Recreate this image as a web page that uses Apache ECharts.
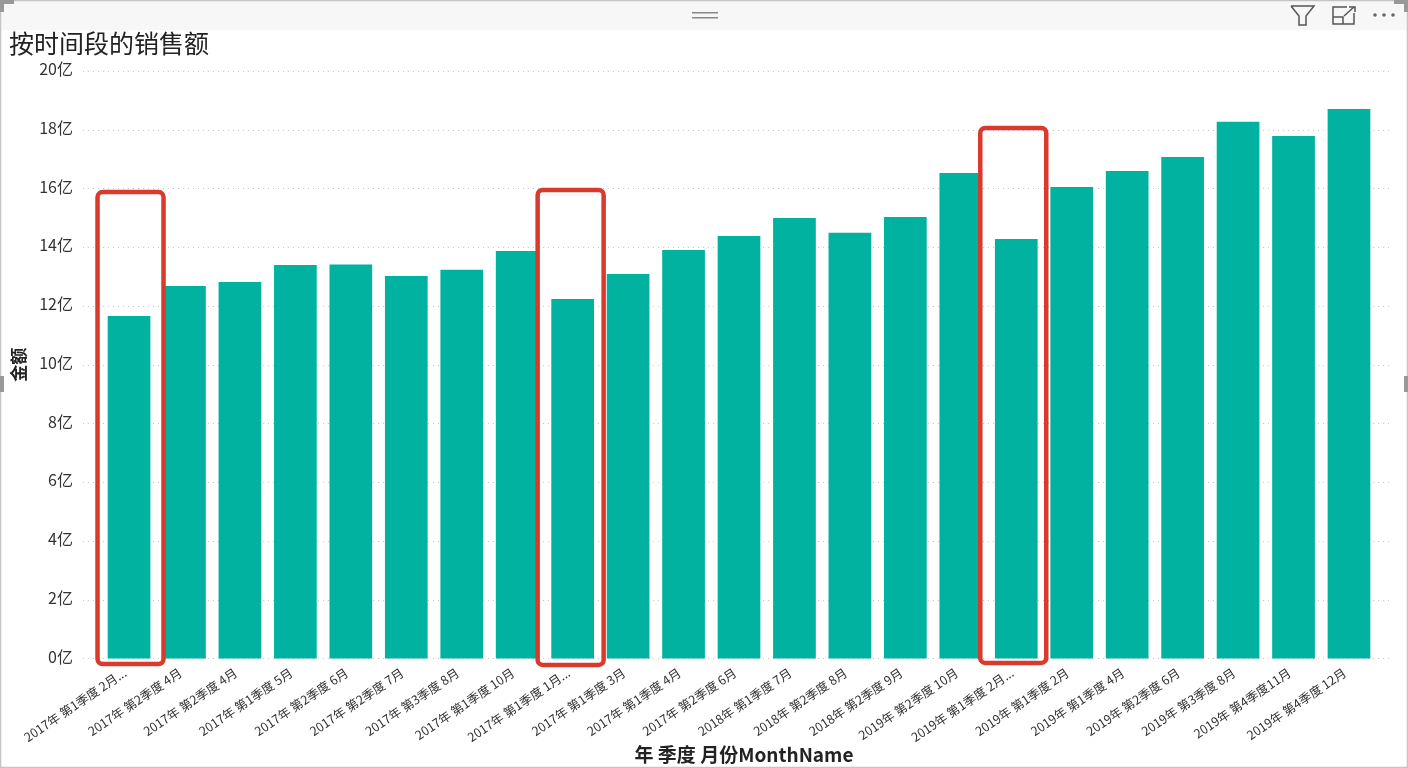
<!DOCTYPE html>
<html><head><meta charset="utf-8">
<style>html,body{margin:0;padding:0;background:#fff}#c{width:1408px;height:768px}</style>
<script src="https://cdn.jsdelivr.net/npm/echarts@6/dist/echarts.min.js"></script>
</head><body><div id="c"></div>
<script>
const FONT = '"Noto Sans CJK SC","Noto Sans",sans-serif';
const categories = ['2017年 第1季度 2月...','2017年 第2季度 4月','2017年 第2季度 4月','2017年 第1季度 5月','2017年 第2季度 6月','2017年 第2季度 7月','2017年 第3季度 8月','2017年 第1季度 10月','2017年 第1季度 1月...','2017年 第1季度 3月','2017年 第1季度 4月','2017年 第2季度 6月','2018年 第1季度 7月','2018年 第2季度 8月','2018年 第2季度 9月','2019年 第2季度 10月','2019年 第1季度 2月...','2019年 第1季度 2月','2019年 第1季度 4月','2019年 第2季度 6月','2019年 第3季度 8月','2019年 第4季度11月','2019年 第4季度 12月'];
const sales = [11.66,12.68,12.82,13.4,13.41,13.02,13.23,13.87,12.24,13.09,13.91,14.38,15.0,14.49,15.03,16.53,14.28,16.05,16.6,17.07,18.27,17.79,18.71];
const boxIndex = [0,8,16];
const boxTop = [15.88,15.95,18.06];
const boxBottom = [-0.19,-0.22,-0.15];
const boxShift = [1.5,-2,-3];

const chart = echarts.init(document.getElementById('c'),null,{renderer:'canvas'});
chart.setOption({
  backgroundColor:'#fff',
  animation:false,
  textStyle:{fontFamily:FONT},
  title:{text:'按时间段的销售额',left:9,top:31,padding:0,textStyle:{fontFamily:FONT,fontSize:25,fontWeight:'normal',color:'#222'}},
  grid:[
    {left:83,width:1309,top:71,height:587.5,outerBoundsMode:'none'},
    {left:101.3,width:1275.4,top:71,height:587.5,outerBoundsMode:'none'}
  ],
  xAxis:[
    {gridIndex:0,type:'category',data:[''],show:false},
    {gridIndex:1,type:'category',data:categories,
     axisLine:{show:false},axisTick:{show:false},
     axisLabel:{interval:0,rotate:34,fontSize:12.5,color:'#333',fontFamily:FONT,margin:10,padding:[0,5,0,0],hideOverlap:false},
     name:'年 季度 月份MonthName',nameLocation:'middle',nameGap:87,nameMoveOverlap:false,
     nameTextStyle:{fontFamily:FONT,fontSize:19,fontWeight:'bold',color:'#222',padding:[0,0,0,10]}}
  ],
  yAxis:[
    {gridIndex:0,type:'value',min:0,max:20,interval:2,
     axisLine:{show:false},axisTick:{show:false},
     axisLabel:{formatter:v=>v+'亿',fontSize:16,color:'#333',fontFamily:FONT,margin:10,verticalAlign:'bottom',lineHeight:4},
     splitLine:{show:true,lineStyle:{type:[1,4],color:'#c8c8c8',width:1}},
     name:'金额',nameLocation:'middle',nameGap:56,
     nameTextStyle:{fontFamily:FONT,fontSize:17,fontWeight:'bold',color:'#222'}},
    {gridIndex:1,type:'value',min:0,max:20,interval:2,show:false,splitLine:{show:false}}
  ],
  series:[
    {type:'bar',xAxisIndex:1,yAxisIndex:1,data:sales,barWidth:'77%',itemStyle:{color:'#01b2a0'}},
    {type:'custom',xAxisIndex:1,yAxisIndex:1,clip:false,z:5,silent:true,
     data:boxIndex.map((c,i)=>[c,boxTop[i],boxBottom[i],boxShift[i]]),
     encode:{x:0,y:1},
     renderItem:(params,api)=>{
       const a=api.coord([api.value(0),api.value(1)]);
       const b=api.coord([api.value(0),api.value(2)]);
       return {type:'rect',
         shape:{x:a[0]+api.value(3)-33,y:a[1],width:66,height:b[1]-a[1],r:5},
         style:{fill:'none',stroke:'#d93a2b',lineWidth:4.5}};
     }}
  ],
  graphic:[
    {type:'rect',z:-10,silent:true,shape:{x:0,y:0,width:1408,height:30},style:{fill:'#f7f7f7'}},
    {type:'rect',z:-9,silent:true,shape:{x:0.5,y:0.5,width:1407,height:767},style:{fill:'none',stroke:'#c4c4c4',lineWidth:1.5}},
    {type:'rect',silent:true,shape:{x:0,y:0,width:14,height:4},style:{fill:'#999'}},
    {type:'rect',silent:true,shape:{x:0,y:0,width:4,height:12},style:{fill:'#999'}},
    {type:'rect',silent:true,shape:{x:1394,y:0,width:14,height:4},style:{fill:'#999'}},
    {type:'rect',silent:true,shape:{x:1404,y:0,width:4,height:12},style:{fill:'#999'}},
    {type:'rect',silent:true,shape:{x:0,y:376,width:4,height:16},style:{fill:'#999'}},
    {type:'rect',silent:true,shape:{x:1404,y:376,width:4,height:16},style:{fill:'#999'}},
    {type:'rect',silent:true,shape:{x:692,y:12,width:26,height:1.5},style:{fill:'#888'}},
    {type:'rect',silent:true,shape:{x:692,y:17,width:26,height:1.5},style:{fill:'#888'}},
    {type:'polyline',silent:true,shape:{points:[[1291,6],[1314,6],[1306,16],[1306,25],[1299,25],[1299,16],[1291,6]]},style:{fill:'none',stroke:'#555',lineWidth:1.5}},
    {type:'polyline',silent:true,shape:{points:[[1347,7],[1333,7],[1333,24],[1354,24],[1354,13]]},style:{fill:'none',stroke:'#555',lineWidth:1.5}},
    {type:'polyline',silent:true,shape:{points:[[1333,17],[1343,17],[1343,24]]},style:{fill:'none',stroke:'#555',lineWidth:1.5}},
    {type:'polyline',silent:true,shape:{points:[[1344,16],[1354,7]]},style:{fill:'none',stroke:'#555',lineWidth:1.5}},
    {type:'polyline',silent:true,shape:{points:[[1349,7],[1355,7],[1355,12]]},style:{fill:'none',stroke:'#555',lineWidth:1.5}},
    {type:'circle',silent:true,shape:{cx:1375,cy:15,r:1.8},style:{fill:'#666'}},
    {type:'circle',silent:true,shape:{cx:1384,cy:15,r:1.8},style:{fill:'#666'}},
    {type:'circle',silent:true,shape:{cx:1393,cy:15,r:1.8},style:{fill:'#666'}}
  ]
});
</script></body></html>
